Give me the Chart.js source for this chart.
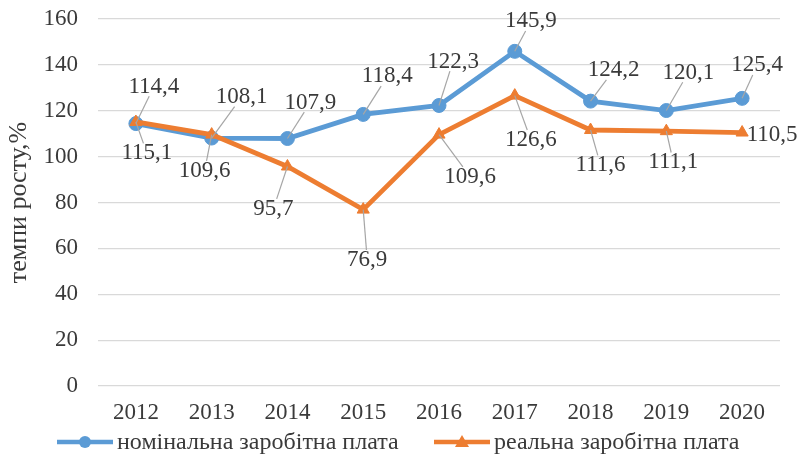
<!DOCTYPE html>
<html>
<head>
<meta charset="utf-8">
<script src="https://cdn.jsdelivr.net/npm/chart.js@4"></script>
<style>
  html, body { margin: 0; padding: 0; background: #fff; }
  #wrap { width: 802px; height: 463px; }
</style>
</head>
<body>
<div id="wrap"><canvas id="chart" width="802" height="463"></canvas></div>
<script>
const years = ["2012", "2013", "2014", "2015", "2016", "2017", "2018", "2019", "2020"];
const nominalWage = [114.4, 108.1, 107.9, 118.4, 122.3, 145.9, 124.2, 120.1, 125.4];
const realWage = [115.1, 109.6, 95.7, 76.9, 109.6, 126.6, 111.6, 111.1, 110.5];
const yTicks = [0, 20, 40, 60, 80, 100, 120, 140, 160];

const nominalLabel = "номінальна заробітна плата";
const realLabel = "реальна заробітна плата";
const yTitle = "темпи росту,%";

// label placement (px from the point), set by hand like in the original
const nominalOffsets = [[18, -37], [30, -41], [23, -36], [24, -38], [14, -44], [16, -30], [23, -31], [22, -38], [15, -33]];
const realOffsets = [[11, 31], [-7, 36], [-14, 42], [4, 50], [31, 42], [16, 44], [10, 35], [7, 31], [30, 2]];

const BLUE = "#5b9bd5";
const ORANGE = "#ed7d31";
const TEXT = "#3a3a3a";
const FONT = "'Liberation Serif', 'Times New Roman', serif";
const FS = 23;

function fmt(v) {
  return v.toFixed(1).replace(".", ",");
}

// where the segment from the point to the label centre leaves the label box
function boxEdge(px, py, cx, cy, hw, hh) {
  const dx = px - cx;
  const dy = py - cy;
  const t = Math.min(dx ? hw / Math.abs(dx) : Infinity, dy ? hh / Math.abs(dy) : Infinity);
  if (t >= 1) return null;
  return [cx + dx * t, cy + dy * t];
}

const dataLabels = {
  id: "dataLabels",
  afterDatasetsDraw(chart) {
    const ctx = chart.ctx;
    ctx.save();
    ctx.font = `${FS}px ${FONT}`;
    ctx.textAlign = "center";
    ctx.textBaseline = "middle";
    chart.data.datasets.forEach((ds, di) => {
      const meta = chart.getDatasetMeta(di);
      meta.data.forEach((pt, i) => {
        const [dx, dy] = ds.labelOffsets[i];
        const cx = pt.x + dx;
        const cy = pt.y + dy;
        const hw = ctx.measureText(fmt(ds.data[i])).width / 2 + 1;
        const hh = FS * 0.42;
        const e = boxEdge(pt.x, pt.y, cx, cy, hw, hh);
        if (!e) return;
        const len = Math.hypot(e[0] - pt.x, e[1] - pt.y);
        if (len < 14) return;
        ctx.strokeStyle = "#a6a6a6";
        ctx.lineWidth = 1.2;
        ctx.beginPath();
        ctx.moveTo(pt.x, pt.y);
        ctx.lineTo(e[0], e[1]);
        ctx.stroke();
      });
    });
    chart.data.datasets.forEach((ds, di) => {
      const meta = chart.getDatasetMeta(di);
      meta.data.forEach((pt, i) => {
        const [dx, dy] = ds.labelOffsets[i];
        ctx.fillStyle = TEXT;
        ctx.fillText(fmt(ds.data[i]), pt.x + dx, pt.y + dy);
      });
    });
    ctx.restore();
  },
};

const bottomLegend = {
  id: "bottomLegend",
  afterDraw(chart) {
    const ctx = chart.ctx;
    const y = 442;
    const items = [
      { x: 57, color: BLUE, style: "circle", text: nominalLabel },
      { x: 434, color: ORANGE, style: "triangle", text: realLabel },
    ];
    ctx.save();
    items.forEach((it) => {
      ctx.strokeStyle = it.color;
      ctx.lineWidth = 4.5;
      ctx.beginPath();
      ctx.moveTo(it.x, y);
      ctx.lineTo(it.x + 56, y);
      ctx.stroke();
      ctx.fillStyle = it.color;
      ctx.beginPath();
      if (it.style === "circle") {
        ctx.arc(it.x + 28, y, 6, 0, Math.PI * 2);
      } else {
        ctx.moveTo(it.x + 28, y - 7);
        ctx.lineTo(it.x + 35, y + 5);
        ctx.lineTo(it.x + 21, y + 5);
        ctx.closePath();
      }
      ctx.fill();
      ctx.fillStyle = TEXT;
      ctx.font = `24px ${FONT}`;
      ctx.textAlign = "left";
      ctx.textBaseline = "middle";
      ctx.fillText(it.text, it.x + 60, y + 1);
    });
    ctx.restore();
  },
};

new Chart(document.getElementById("chart"), {
  type: "line",
  data: {
    labels: years,
    datasets: [
      {
        label: nominalLabel,
        data: nominalWage,
        labelOffsets: nominalOffsets,
        borderColor: BLUE,
        backgroundColor: BLUE,
        borderWidth: 4.8,
        pointStyle: "circle",
        pointRadius: 7,
        pointBorderWidth: 1,
        tension: 0,
        order: 1,
      },
      {
        label: realLabel,
        data: realWage,
        labelOffsets: realOffsets,
        borderColor: ORANGE,
        backgroundColor: ORANGE,
        borderWidth: 4.8,
        pointStyle: "triangle",
        pointRadius: 7,
        pointBorderWidth: 1,
        tension: 0,
        order: 0,
      },
    ],
  },
  options: {
    responsive: false,
    animation: false,
    layout: { padding: { left: 4, right: 22, top: 19, bottom: 40 } },
    plugins: {
      legend: { display: false },
      tooltip: { enabled: false },
    },
    scales: {
      x: {
        offset: true,
        grid: { display: false },
        border: { display: false },
        ticks: { color: TEXT, font: { family: FONT, size: FS }, padding: 5, maxRotation: 0 },
        afterFit: (s) => { s.height = 37; s.paddingLeft = 0; s.paddingRight = 0; },
      },
      y: {
        min: 0,
        max: 160,
        afterBuildTicks: (s) => { s.ticks = yTicks.map((v) => ({ value: v })); },
        grid: { color: "#d9d9d9", lineWidth: 1.2, drawTicks: false },
        border: { display: false },
        ticks: { color: TEXT, font: { family: FONT, size: FS }, padding: 20 },
        title: { display: true, text: yTitle, color: TEXT, font: { family: FONT, size: 26 }, padding: 0 },
        afterFit: (s) => { s.width = 94; s.paddingTop = 0; s.paddingBottom = 0; },
      },
    },
  },
  plugins: [dataLabels, bottomLegend],
});
</script>
</body>
</html>
